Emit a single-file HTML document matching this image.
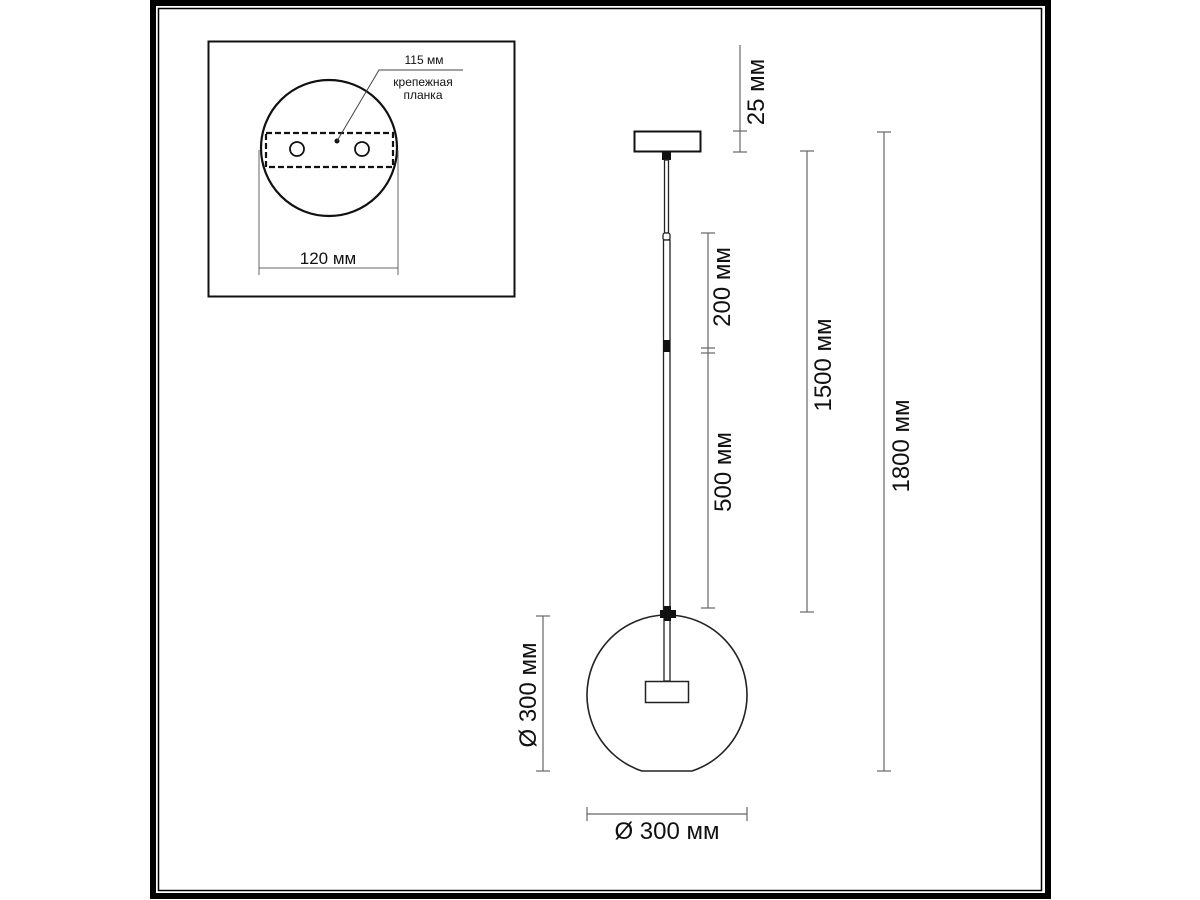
<!DOCTYPE html>
<html><head><meta charset="utf-8"><style>
html,body{margin:0;padding:0;background:#fff;}
svg{display:block;}
text{font-family:"Liberation Sans","DejaVu Sans",sans-serif;fill:#111;}
</style></head><body>
<svg width="1200" height="900" viewBox="0 0 1200 900" xmlns="http://www.w3.org/2000/svg">
<rect x="0" y="0" width="1200" height="900" fill="#fff"/>
<!-- frame -->
<rect x="153" y="3" width="895" height="893" fill="none" stroke="#000" stroke-width="6"/>
<rect x="158.5" y="8.5" width="883" height="882" fill="none" stroke="#000" stroke-width="1.5"/>
<!-- inset -->
<rect x="208.5" y="41.5" width="306" height="255" fill="none" stroke="#111" stroke-width="2"/>
<circle cx="329" cy="148" r="68" fill="none" stroke="#111" stroke-width="2.2"/>
<rect x="266" y="133" width="127" height="34" fill="none" stroke="#111" stroke-width="2.2" stroke-dasharray="6,3"/>
<circle cx="297" cy="149" r="7" fill="none" stroke="#111" stroke-width="1.8"/>
<circle cx="362" cy="149" r="7" fill="none" stroke="#111" stroke-width="1.8"/>
<circle cx="337" cy="141" r="2.5" fill="#111"/>
<polyline points="337,141 379,70 463,70" fill="none" stroke="#444" stroke-width="1"/>
<text x="424" y="64" font-size="12" text-anchor="middle">115 мм</text>
<text x="423" y="86" font-size="12" text-anchor="middle">крепежная</text>
<text x="423" y="99" font-size="12" text-anchor="middle">планка</text>
<line x1="259" y1="150" x2="259" y2="275" stroke="#666" stroke-width="1"/>
<line x1="398" y1="150" x2="398" y2="275" stroke="#666" stroke-width="1"/>
<line x1="259" y1="268" x2="398" y2="268" stroke="#666" stroke-width="1"/>
<text x="328" y="264" font-size="17" text-anchor="middle">120 мм</text>
<!-- lamp -->
<rect x="634.5" y="131.5" width="66" height="20" fill="#fff" stroke="#111" stroke-width="2"/>
<rect x="662" y="151" width="9" height="9" fill="#111"/>
<rect x="664.5" y="160" width="4" height="73" fill="#fff" stroke="#222" stroke-width="1.3"/>
<rect x="663" y="233" width="7" height="7" rx="2" fill="#fff" stroke="#222" stroke-width="1.3"/>
<rect x="663.5" y="240" width="6.5" height="370" fill="#fff" stroke="#222" stroke-width="1.3"/>
<rect x="663" y="340" width="7" height="12" fill="#111"/>
<path d="M642,771 A80,80 0 1 1 692,771 Z" fill="none" stroke="#222" stroke-width="1.6"/>
<rect x="664" y="615" width="6" height="66" fill="#fff" stroke="#222" stroke-width="1.3"/>
<rect x="660" y="610" width="16" height="8" fill="#111"/>
<rect x="664" y="606" width="7" height="15" fill="#111"/>
<rect x="645.5" y="681.5" width="43" height="21" fill="#fff" stroke="#222" stroke-width="1.5"/>
<!-- dimensions -->
<g stroke="#666" stroke-width="1.2" fill="none">
<line x1="740" y1="45" x2="740" y2="152"/><line x1="733" y1="131" x2="747" y2="131"/><line x1="733" y1="152" x2="747" y2="152"/>
<line x1="708" y1="233" x2="708" y2="608"/><line x1="701" y1="233" x2="715" y2="233"/><line x1="701" y1="348" x2="715" y2="348"/><line x1="701" y1="353" x2="715" y2="353"/><line x1="701" y1="608" x2="715" y2="608"/>
<line x1="807" y1="151" x2="807" y2="612"/><line x1="800" y1="151" x2="814" y2="151"/><line x1="800" y1="612" x2="814" y2="612"/>
<line x1="884" y1="132" x2="884" y2="771"/><line x1="877" y1="132" x2="891" y2="132"/><line x1="877" y1="771" x2="891" y2="771"/>
<line x1="543" y1="616" x2="543" y2="771"/><line x1="536" y1="616" x2="550" y2="616"/><line x1="536" y1="771" x2="550" y2="771"/>
<line x1="587" y1="814" x2="747" y2="814"/><line x1="587" y1="807" x2="587" y2="821"/><line x1="747" y1="807" x2="747" y2="821"/>
</g>
<g font-size="24" text-anchor="middle">
<text transform="translate(764,92) rotate(-90)">25 мм</text>
<text transform="translate(730,287) rotate(-90)">200 мм</text>
<text transform="translate(731,472) rotate(-90)">500 мм</text>
<text transform="translate(831,365) rotate(-90)">1500 мм</text>
<text transform="translate(909,446) rotate(-90)">1800 мм</text>
<text transform="translate(536,695) rotate(-90)">Ø 300 мм</text>
<text x="667" y="839">Ø 300 мм</text>
</g>
</svg>
</body></html>
